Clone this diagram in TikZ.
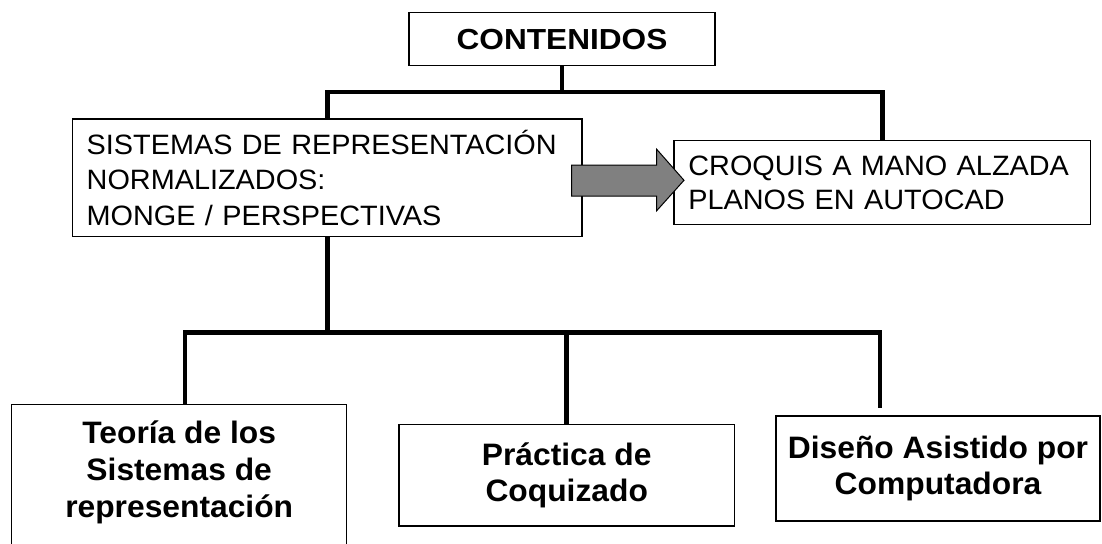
\documentclass[tikz,border=0pt]{standalone}
\usepackage{fontspec}
\setmainfont{Liberation Sans}
\newfontfamily\regf{Liberation Sans}[FakeStretch=1.03]
\newfontfamily\boldf{Liberation Sans}[FakeStretch=1.025]
\newfontfamily\headf{Liberation Sans}[FakeStretch=1.09]
\usetikzlibrary{calc}
\definecolor{arrowgray}{RGB}{128,128,128}
\begin{document}
\begin{tikzpicture}[x=1pt,y=-1pt,
  box/.style={draw=black, line width=1.2pt, inner sep=0pt, outer sep=0pt, fill=white},
  regtext/.style={font={\regf\fontsize{28}{35.5}\selectfont}},
  boldtext/.style={font={\boldf\bfseries\fontsize{31}{36.7}\selectfont}},
  link/.style={line width=4.8pt},
  blockarrow/.style={draw=black, line width=1pt, fill=arrowgray}]
\useasboundingbox (0,0) rectangle (1102,543);
\clip (0,0) rectangle (1102,543);

% boxes
\node[box, minimum width=306, minimum height=53, font={\headf\bfseries\fontsize{29}{34}\selectfont}] (top) at (562,39.2) {CONTENIDOS};

\node[box, regtext, minimum width=509.7, minimum height=117.7, text width=481, align=left] (lbox) at (327.2,177.9)
  {SISTEMAS DE REPRESENTACIÓN\\NORMALIZADOS:\\MONGE / PERSPECTIVAS};

\node[box, font={\regf\fontsize{28}{34}\selectfont}, minimum width=416.7, minimum height=83.6, text width=388, align=left] (rbox) at (882.4,182.5)
  {CROQUIS A MANO ALZADA\\PLANOS EN AUTOCAD};

\node[box, minimum width=335, minimum height=155.7] (b1) at (179.2,482.15) {};
\node[boldtext, align=center, anchor=north, inner sep=0pt] (b1t) at (179.2,421)
  {Teoría de los\\Sistemas de\\representación};

\node[box, boldtext, minimum width=335.4, minimum height=101.7, align=center] (b2) at (566.7,475.2)
  {Práctica de\\Coquizado};

\node[box, boldtext, minimum width=324, minimum height=105, align=center] (b3) at (938,468.5)
  {Diseño Asistido por\\Computadora};

% connectors
\draw[link] (top.south) -- ++(0,26.3) coordinate (j0) -| (lbox.north);
\draw[link] (j0) -| (rbox.north);

\draw[link] (lbox.south) -- ++(0,95.6) coordinate (j1);
\draw[link] (j1) -| ($(b1.north)+(5.8,0)$);
\draw[link] (j1) -| (b2.north);
\coordinate (e3) at (880,408);
\draw[link] (j1) -| (e3);

% block arrow
\draw[blockarrow] (571.7,165) -- (656.7,165) -- (656.7,149.3) -- (684,180.3)
  -- (656.7,210.7) -- (656.7,196) -- (571.7,196) -- cycle;
\end{tikzpicture}
\end{document}
